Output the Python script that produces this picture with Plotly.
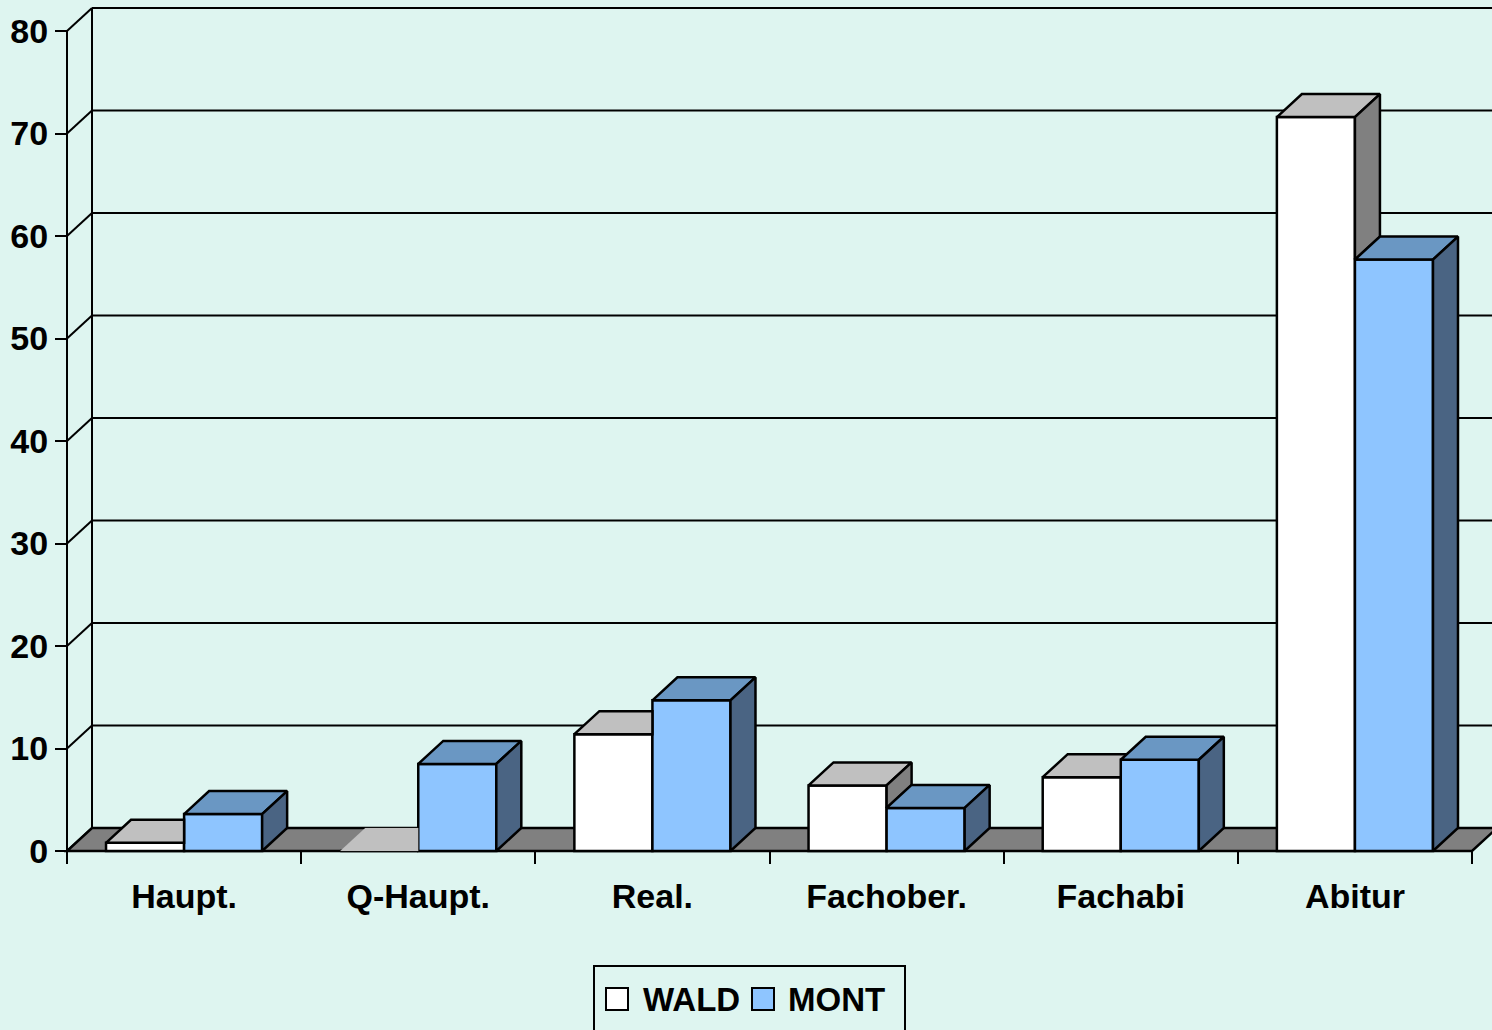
import plotly.graph_objects as go

# ---------------- data ----------------
categories = ["Haupt.", "Q-Haupt.", "Real.", "Fachober.", "Fachabi", "Abitur"]
wald = [0.8, 0.0, 11.4, 6.4, 7.2, 71.6]
mont = [3.6, 8.5, 14.7, 4.2, 8.9, 57.7]
series_names = ["WALD", "MONT"]
y_ticks = [0, 10, 20, 30, 40, 50, 60, 70, 80]

# ---------------- styling / geometry ----------------
W, H = 1492, 1030
BG = "#DEF5F0"
WALD_FRONT, WALD_TOP, WALD_SIDE = "#FFFFFF", "#C0C0C0", "#808080"
MONT_FRONT, MONT_TOP, MONT_SIDE = "#8EC5FF", "#6A97C3", "#4A6483"
FLOOR = "#808080"
FONT = dict(family="Liberation Sans, Arial, sans-serif", size=34, color="black", weight="bold")
LEG_FONT = dict(family="Liberation Sans, Arial, sans-serif", size=33, color="black", weight="bold")
BAR_LW = 2.5

PX_CAT = 234.17      # pixels per category
PX_UNIT = 10.25      # pixels per value unit
FRONT_LEFT_PX = 67   # pixel of front-left corner
ZERO_PX = 851        # pixel row of value 0 (front)
DEPTH_DX_PX = 25
DEPTH_DY_PX = 23
ML, MR, MT = 44, 0, 5
PLOT_BOTTOM_PX = 857
MB = H - PLOT_BOTTOM_PX

x0 = -0.5 - (FRONT_LEFT_PX - ML) / PX_CAT
x1 = x0 + (W - ML - MR) / PX_CAT
y1 = (ZERO_PX - MT) / PX_UNIT
y0 = -(PLOT_BOTTOM_PX - ZERO_PX) / PX_UNIT
dxu = DEPTH_DX_PX / PX_CAT
dyu = DEPTH_DY_PX / PX_UNIT
slope = dyu / dxu
bw = 1 / 3
n = len(categories)
xs = list(range(n))
left_edge = -0.5
right_edge = n - 0.5
ymax = max(y_ticks)
plot_w = W - ML - MR
plot_h = PLOT_BOTTOM_PX - MT


def px_x(p):
    return (p - ML) / plot_w


def px_y(p):
    return (PLOT_BOTTOM_PX - p) / plot_h


fig = go.Figure()

# front faces as real bars
fig.add_trace(go.Bar(x=xs, y=wald, width=bw, offset=-bw, name=series_names[0], showlegend=False,
                     marker=dict(color=WALD_FRONT, line=dict(color="black", width=BAR_LW))))
fig.add_trace(go.Bar(x=xs, y=mont, width=bw, offset=0, name=series_names[1], showlegend=False,
                     marker=dict(color=MONT_FRONT, line=dict(color="black", width=BAR_LW))))


def dedup(pts):
    out = []
    for p in pts:
        if not out or abs(out[-1][0] - p[0]) > 1e-9 or abs(out[-1][1] - p[1]) > 1e-9:
            out.append(p)
    return out


def poly(pts, color, lw=BAR_LW):
    pts = dedup(pts)
    px = [p[0] for p in pts] + [pts[0][0]]
    py = [p[1] for p in pts] + [pts[0][1]]
    fig.add_trace(go.Scatter(x=px, y=py, mode="lines", fill="toself", fillcolor=color,
                             line=dict(color="black" if lw > 0 else color, width=max(lw, 0.1)),
                             hoverinfo="skip", showlegend=False))


# 3D top / side faces (painter's order, clipped against the bar in front)
for i in xs:
    h, hm = wald[i], mont[i]
    xl, xr = i - bw, i
    lw = BAR_LW if h > 0 else 0
    yc = min(max(h, hm), h + dyu)
    if yc >= h + dyu - 1e-9:
        top = [(xl, h), (xr, h), (xr, h + dyu), (xl + dxu, h + dyu)]
    else:
        top = [(xl, h), (xr, h), (xr, yc), (xr + (yc - h) / slope, yc),
               (xr + dxu, h + dyu), (xl + dxu, h + dyu)]
    poly(top, WALD_TOP, lw)
    if h > hm:
        poly([(xr, hm), (xr + dxu, hm + dyu), (xr + dxu, h + dyu), (xr, h)], WALD_SIDE)
    ml, mr = i, i + bw
    poly([(ml, hm), (mr, hm), (mr + dxu, hm + dyu), (ml + dxu, hm + dyu)], MONT_TOP)
    poly([(mr, 0), (mr + dxu, dyu), (mr + dxu, hm + dyu), (mr, hm)], MONT_SIDE)

# walls, gridlines and floor as shapes beneath the traces
shapes = []
line = dict(color="black", width=2)
for v in y_ticks:
    shapes.append(dict(type="line", xref="x", yref="y", layer="below",
                       x0=left_edge + dxu, x1=x1 + 1, y0=v + dyu, y1=v + dyu, line=line))
    shapes.append(dict(type="line", xref="x", yref="y", layer="below",
                       x0=left_edge, x1=left_edge + dxu, y0=v, y1=v + dyu, line=line))
shapes.append(dict(type="line", xref="x", yref="y", layer="below",
                   x0=left_edge + dxu, x1=left_edge + dxu, y0=dyu, y1=ymax + dyu, line=line))
shapes.append(dict(type="line", xref="x", yref="y", layer="below",
                   x0=left_edge, x1=left_edge, y0=0, y1=ymax, line=line))
shapes.append(dict(type="path", xref="x", yref="y", layer="below",
                   path=f"M {left_edge},0 L {right_edge},0 L {right_edge + dxu},{dyu} "
                        f"L {left_edge + dxu},{dyu} Z",
                   fillcolor=FLOOR, line=dict(color="black", width=BAR_LW)))

# legend (box, swatches, labels)
annotations = []
shapes.append(dict(type="rect", xref="paper", yref="paper", layer="above",
                   x0=px_x(594), x1=px_x(905), y0=px_y(1045), y1=px_y(966),
                   line=line, fillcolor="rgba(0,0,0,0)"))
legend_items = [(series_names[0], WALD_FRONT, 606, 641), (series_names[1], MONT_FRONT, 752, 786)]
for name, col, sx, tx in legend_items:
    shapes.append(dict(type="rect", xref="paper", yref="paper", layer="above",
                       x0=px_x(sx), x1=px_x(sx + 22), y0=px_y(1010), y1=px_y(988),
                       line=line, fillcolor=col))
    annotations.append(dict(xref="paper", yref="paper", x=px_x(tx), y=px_y(999),
                            xanchor="left", yanchor="middle", text=name, showarrow=False,
                            font=LEG_FONT))

fig.update_layout(
    width=W, height=H,
    margin=dict(l=ML, r=MR, t=MT, b=MB, pad=0),
    paper_bgcolor=BG, plot_bgcolor=BG,
    font=FONT,
    barmode="overlay",
    shapes=shapes,
    annotations=annotations,
    showlegend=False,
    xaxis=dict(range=[x0, x1], tickmode="array", tickvals=xs, ticktext=categories,
               ticks="", showline=False, showgrid=False, zeroline=False,
               anchor="free", position=(0 - y0) / (y1 - y0),
               ticklabelstandoff=22, tickfont=FONT,
               minor=dict(tickmode="array", tickvals=[k - 0.5 for k in range(n + 1)],
                          ticks="outside", ticklen=12, tickwidth=2, tickcolor="black",
                          showgrid=False)),
    yaxis=dict(range=[y0, y1], tickmode="array", tickvals=y_ticks,
               ticks="outside", ticklen=12, tickwidth=2, tickcolor="black",
               showline=False, showgrid=False, zeroline=False,
               anchor="free", position=(left_edge - x0) / (x1 - x0),
               tickfont=FONT),
)

fig.write_html("out.html", config={"displayModeBar": False},
               post_script="document.body.style.margin='0';document.body.style.background='" + BG + "';")
